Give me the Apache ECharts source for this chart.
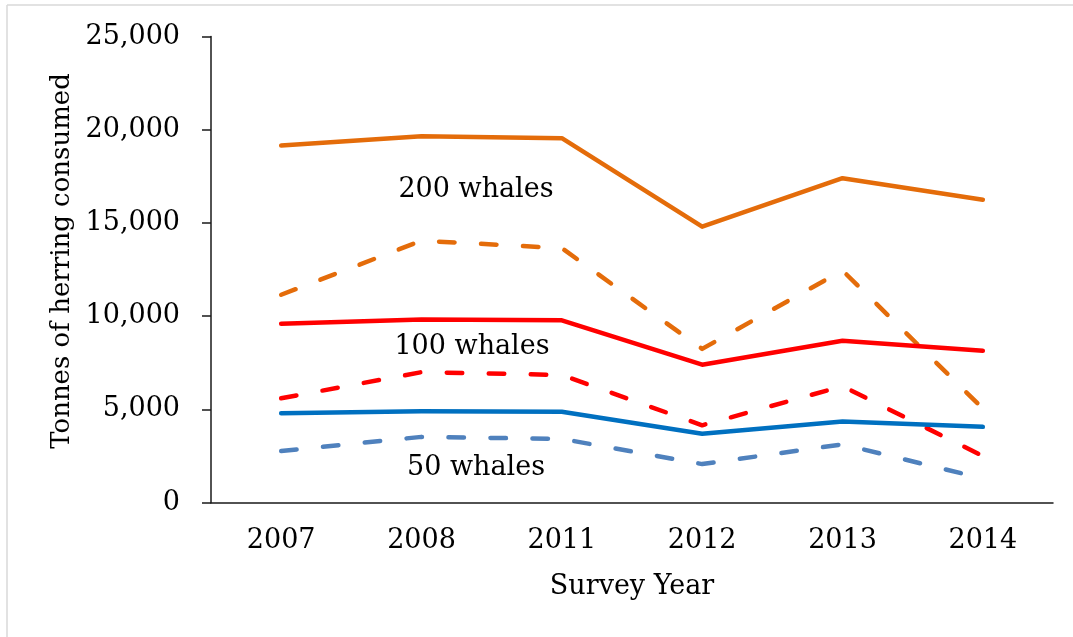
<!DOCTYPE html>
<html>
<head>
<meta charset="utf-8">
<script src="https://cdn.jsdelivr.net/npm/echarts@6/dist/echarts.min.js"></script>
<style>
  html, body { margin: 0; padding: 0; background: #fff; }
  #chart { width: 1073px; height: 637px; }
</style>
</head>
<body>
<div id="chart"></div>
<script>
// Survey years on the horizontal axis
const years = ['2007', '2008', '2011', '2012', '2013', '2014'];

// Tonnes of herring consumed, solid and dashed estimates per pod size
const whales200 = [19150, 19650, 19550, 14800, 17400, 16250];
const whales200Low = [11150, 14050, 13650, 8250, 12450, 5050];
const whales100 = [9600, 9820, 9780, 7400, 8680, 8150];
const whales100Low = [5600, 7000, 6850, 4150, 6250, 2500];
const whales50 = [4800, 4900, 4880, 3700, 4350, 4070];
const whales50Low = [2770, 3530, 3420, 2070, 3130, 1300];

const podLabels = ['200 whales', '100 whales', '50 whales'];

const FONT = 'DejaVu Serif';
const FONT_SIZE = 27;
const ORANGE = '#E46C0A';
const RED = '#FF0000';
const BLUE = '#0070C0';
const BLUE_LIGHT = '#4F81BD';

function lineSeries(name, data, color, dashed) {
  return {
    name: name,
    type: 'line',
    data: data,
    symbol: 'none',
    silent: true,
    z: dashed ? 2 : 3,
    lineStyle: {
      color: color,
      width: 4.5,
      type: dashed ? [15.5, 26.5] : 'solid',
      cap: 'round',
      join: 'round'
    }
  };
}

const chart = echarts.init(document.getElementById('chart'), null, { renderer: 'canvas' });
const textFont = FONT_SIZE + 'px "' + FONT + '"';

chart.setOption({
  animation: false,
  backgroundColor: '#ffffff',
  textStyle: { fontFamily: FONT },
  grid: { left: 211, right: 20, top: 36.5, bottom: 134.3, containLabel: false },
  xAxis: {
    type: 'category',
    data: years,
    boundaryGap: true,
    name: 'Survey Year',
    nameLocation: 'middle',
    nameGap: 71,
    nameTextStyle: { fontFamily: FONT, fontSize: FONT_SIZE, color: '#000' },
    axisLine: { lineStyle: { color: '#1a1a1a', width: 1.5 } },
    axisTick: { show: false },
    axisLabel: { fontFamily: FONT, fontSize: FONT_SIZE, color: '#000', margin: 25 },
    splitLine: { show: false }
  },
  yAxis: {
    type: 'value',
    min: 0,
    max: 25000,
    interval: 5000,
    axisLine: { show: true, lineStyle: { color: '#1a1a1a', width: 1.5 } },
    axisTick: { show: true, inside: false, length: 9, lineStyle: { color: '#1a1a1a', width: 1.5 } },
    axisLabel: {
      fontFamily: FONT, fontSize: FONT_SIZE, color: '#000', margin: 31,
      formatter: v => v.toLocaleString('en-US')
    },
    splitLine: { show: false }
  },
  series: [
    lineSeries('200 whales', whales200, ORANGE, false),
    lineSeries('200 whales (low)', whales200Low, ORANGE, true),
    lineSeries('100 whales', whales100, RED, false),
    lineSeries('100 whales (low)', whales100Low, RED, true),
    lineSeries('50 whales', whales50, BLUE, false),
    lineSeries('50 whales (low)', whales50Low, BLUE_LIGHT, true)
  ],
  graphic: [
    // thin frame along the top and left edges
    { type: 'line', shape: { x1: 7, y1: 5, x2: 1073, y2: 5 }, style: { stroke: '#d9d9d9', lineWidth: 1.5 }, silent: true },
    { type: 'line', shape: { x1: 7, y1: 5, x2: 7, y2: 637 }, style: { stroke: '#d9d9d9', lineWidth: 1.5 }, silent: true },
    // vertical axis title
    {
      type: 'text', x: 62, y: 261, rotation: Math.PI / 2, silent: true,
      style: { text: 'Tonnes of herring consumed', font: '26px "' + FONT + '"', fill: '#000', align: 'center', verticalAlign: 'middle' }
    },
    // pod size annotations
    { type: 'text', x: 476, y: 190, silent: true,
      style: { text: podLabels[0], font: textFont, fill: '#000', align: 'center', verticalAlign: 'middle' } },
    { type: 'text', x: 472, y: 347, silent: true,
      style: { text: podLabels[1], font: textFont, fill: '#000', align: 'center', verticalAlign: 'middle' } },
    { type: 'text', x: 476, y: 468, silent: true,
      style: { text: podLabels[2], font: textFont, fill: '#000', align: 'center', verticalAlign: 'middle' } }
  ]
});
</script>
</body>
</html>
